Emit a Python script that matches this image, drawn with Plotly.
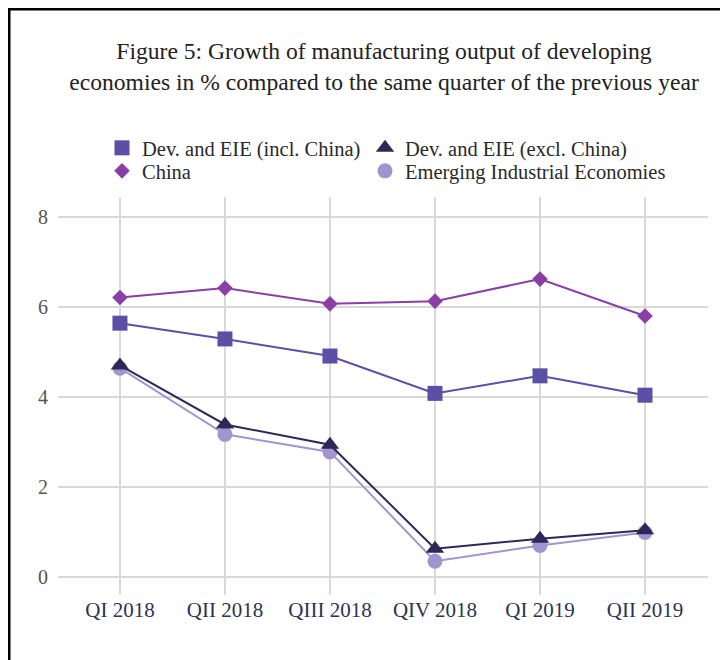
import plotly.graph_objects as go

quarters = ["QI 2018", "QII 2018", "QIII 2018", "QIV 2018", "QI 2019", "QII 2019"]
dev_incl = [5.64, 5.29, 4.91, 4.08, 4.47, 4.04]
dev_excl = [4.70, 3.39, 2.94, 0.63, 0.85, 1.04]
china = [6.21, 6.42, 6.07, 6.13, 6.62, 5.80]
eie = [4.64, 3.17, 2.78, 0.35, 0.70, 0.99]

names = ["Dev. and EIE (incl. China)", "Dev. and EIE (excl. China)", "China", "Emerging Industrial Economies"]
colors = ["#5b4fa6", "#2e2858", "#8a3fa6", "#a295cf"]
symbols = ["square", "triangle-up", "diamond", "circle"]
sizes = [15, 16, 12, 15]
series = [dev_incl, dev_excl, china, eie]
legend_ids = ["legend", "legend2", "legend3", "legend4"]

OFF = 8  # page body margin
W, H = 728 - OFF, 660 - OFF
ML, MR, MT, MB = 58 - OFF, 20, 197 - OFF, 65
PW, PH = W - ML - MR, H - MT - MB

def sx(s):
    return (s - OFF - ML) / PW

def sy(s):
    return (H - MB - (s - OFF)) / PH

serif = "Liberation Serif, Times New Roman, serif"

fig = go.Figure()
# draw order: incl, EIE, China, excl (excl on top of EIE)
for i in [0, 3, 2, 1]:
    fig.add_trace(go.Scatter(x=quarters, y=series[i], name=names[i], showlegend=False,
                             mode="lines+markers", line=dict(color=colors[i], width=2),
                             marker=dict(symbol=symbols[i], size=sizes[i], color=colors[i])))
# legend-only entries (markers only)
for i in range(4):
    fig.add_trace(go.Scatter(x=[quarters[0]], y=[None], name=names[i], mode="markers",
                             legend=legend_ids[i], showlegend=True,
                             marker=dict(symbol=symbols[i], size=sizes[i], color=colors[i])))

leg_common = dict(orientation="h", xanchor="left", yanchor="top",
                  font=dict(family=serif, size=20.5, color="#2a2a2a"),
                  bgcolor="rgba(0,0,0,0)", itemclick=False, itemdoubleclick=False)

fig.update_layout(
    width=W, height=H,
    margin=dict(l=ML, r=MR, t=MT, b=MB),
    paper_bgcolor="white", plot_bgcolor="white",
    font=dict(family=serif, color="#333333"),
    title=dict(text="Figure 5: Growth of manufacturing output of developing<br>economies in % compared to the same quarter of the previous year",
               x=(384 - OFF) / W, xanchor="center", y=1 - (59 - OFF) / H, yanchor="top",
               font=dict(family=serif, size=23.6, color="#222222")),
    legend=dict(x=sx(102), y=sy(128), **leg_common),
    legend2=dict(x=sx(365), y=sy(128), **leg_common),
    legend3=dict(x=sx(102), y=sy(151), **leg_common),
    legend4=dict(x=sx(365), y=sy(151), **leg_common),
    xaxis=dict(type="category", range=[-0.59, 5.6], showgrid=True, gridcolor="#d9d9d9", gridwidth=2,
               zeroline=False, showline=False, ticks="",
               tickfont=dict(family=serif, size=21, color="#2b3450")),
    yaxis=dict(range=[-0.4, 8.444], tickvals=[0, 2, 4, 6, 8], showgrid=True, gridcolor="#d9d9d9", gridwidth=2,
               zeroline=False, showline=False, ticks="", ticklabelstandoff=9,
               tickfont=dict(family=serif, size=20, color="#555555")),
    shapes=[
        dict(type="line", xref="paper", yref="paper", x0=sx(9), x1=sx(9), y0=sy(8), y1=sy(680),
             line=dict(color="black", width=3)),
        dict(type="line", xref="paper", yref="paper", x0=sx(8), x1=sx(760), y0=sy(9), y1=sy(9),
             line=dict(color="black", width=3)),
    ],
)

fig.write_html("out.html")
